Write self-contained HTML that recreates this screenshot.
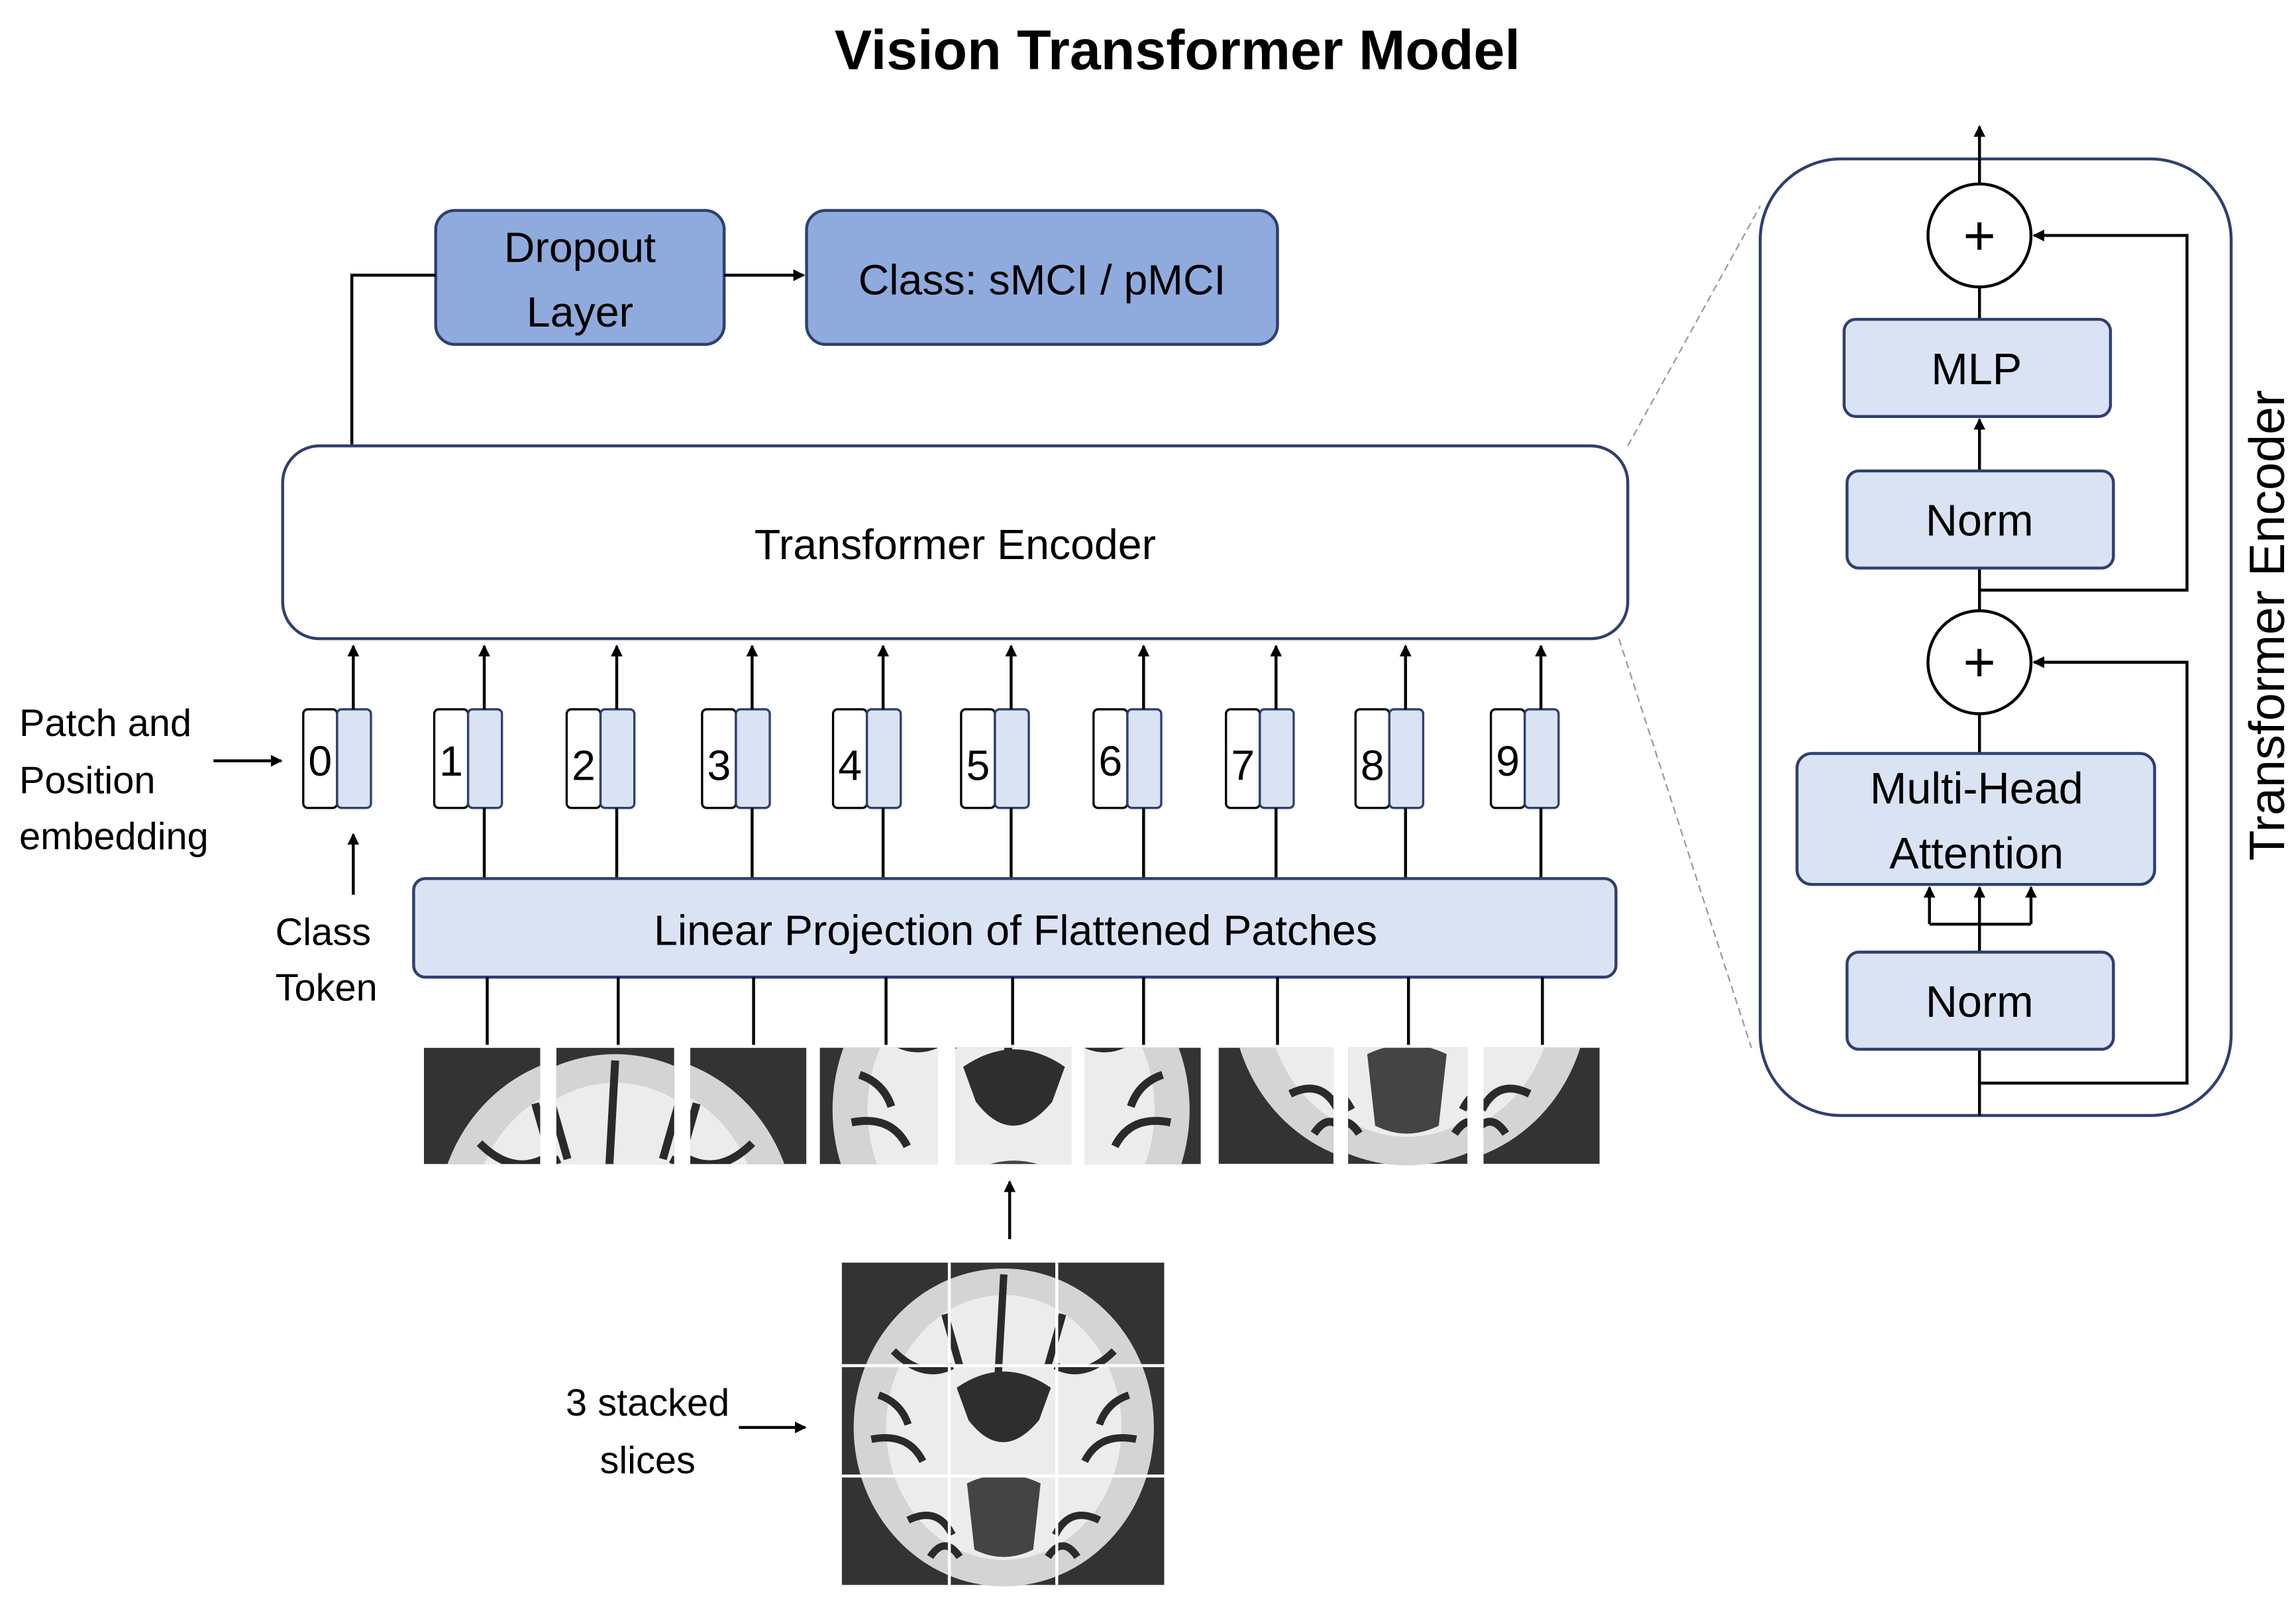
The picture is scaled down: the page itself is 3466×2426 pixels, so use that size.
<!DOCTYPE html>
<html><head><meta charset="utf-8"><style>
html,body{margin:0;padding:0;background:#fff}
svg{display:block}
text{font-family:"Liberation Sans",sans-serif;fill:#000}
</style></head><body>
<svg width="3466" height="2426" viewBox="0 0 1560 1092" xmlns="http://www.w3.org/2000/svg">
<defs>
<marker id="ah" markerWidth="8" markerHeight="8" refX="7" refY="4" orient="auto" markerUnits="userSpaceOnUse">
<path d="M0,0 L8,4 L0,8 z" fill="#000"/></marker>
<g id="brain">
<rect x="0" y="0" width="219" height="219" fill="#333"/>
<ellipse cx="110" cy="112" rx="102" ry="108" fill="#d4d4d4"/>
<ellipse cx="110" cy="112" rx="80" ry="90" fill="#ececec"/>
<g fill="none" stroke="#2a2a2a" stroke-width="5">
<path d="M110 8 L106 80"/><path d="M35 60 q20 20 40 10"/><path d="M185 60 q-20 20 -40 10"/>
<path d="M20 120 q25 -5 35 15"/><path d="M200 120 q-25 -5 -35 15"/>
<path d="M45 175 q20 -10 30 10"/><path d="M175 175 q-20 -10 -30 10"/>
<path d="M70 35 l10 35"/><path d="M150 35 l-10 35"/>
<path d="M25 90 q15 5 20 20"/><path d="M195 90 q-15 5 -20 20"/>
<path d="M60 200 q10 -15 20 0"/><path d="M160 200 q-10 -15 -20 0"/>
</g>
<path d="M78 85 q32 -22 64 0 l-8 22 q-25 30 -48 0 z" fill="#2e2e2e"/>
<path d="M85 150 q25 -12 50 0 l-5 45 q-20 10 -40 0z" fill="#444"/>
</g>
</defs>

<text x="800" y="47" text-anchor="middle" font-size="38" font-weight="bold">Vision Transformer Model</text>

<rect x="296" y="143" width="196" height="91" rx="13" fill="#8faadc" stroke="#2f3f6f" stroke-width="2"/>
<text x="394" y="178" text-anchor="middle" font-size="29">Dropout</text>
<text x="394" y="222" text-anchor="middle" font-size="29">Layer</text>
<rect x="548" y="143" width="320" height="91" rx="13" fill="#8faadc" stroke="#2f3f6f" stroke-width="2"/>
<text x="708" y="200" text-anchor="middle" font-size="29">Class: sMCI / pMCI</text>
<line x1="492" y1="187" x2="546" y2="187" stroke="#000" stroke-width="2" marker-end="url(#ah)"/>
<polyline points="239,302 239,187 296,187" fill="none" stroke="#000" stroke-width="2"/>

<rect x="192" y="303" width="914" height="131" rx="25" fill="#fff" stroke="#2f3f6f" stroke-width="2"/>
<text x="649" y="380" text-anchor="middle" font-size="29">Transformer Encoder</text>

<g font-size="29">
<g transform="translate(206,0)"><rect x="0" y="482" width="23" height="67" rx="3" fill="#fff" stroke="#000" stroke-width="1.5"/><rect x="23" y="482" width="23" height="67" rx="3" fill="#dae3f3" stroke="#2f3f6f" stroke-width="1.5"/><text x="11.5" y="527" text-anchor="middle">0</text><line x1="34" y1="482" x2="34" y2="439" stroke="#000" stroke-width="2" marker-end="url(#ah)"/><line x1="34" y1="608" x2="34" y2="567" stroke="#000" stroke-width="2" marker-end="url(#ah)"/></g>
<g transform="translate(295,0)"><rect x="0" y="482" width="23" height="67" rx="3" fill="#fff" stroke="#000" stroke-width="1.5"/><rect x="23" y="482" width="23" height="67" rx="3" fill="#dae3f3" stroke="#2f3f6f" stroke-width="1.5"/><text x="11.5" y="527" text-anchor="middle">1</text><line x1="34" y1="482" x2="34" y2="439" stroke="#000" stroke-width="2" marker-end="url(#ah)"/><line x1="34" y1="549" x2="34" y2="597" stroke="#000" stroke-width="2"/></g>
<g transform="translate(385,0)"><rect x="0" y="482" width="23" height="67" rx="3" fill="#fff" stroke="#000" stroke-width="1.5"/><rect x="23" y="482" width="23" height="67" rx="3" fill="#dae3f3" stroke="#2f3f6f" stroke-width="1.5"/><text x="11.5" y="530" text-anchor="middle">2</text><line x1="34" y1="482" x2="34" y2="439" stroke="#000" stroke-width="2" marker-end="url(#ah)"/><line x1="34" y1="549" x2="34" y2="597" stroke="#000" stroke-width="2"/></g>
<g transform="translate(477,0)"><rect x="0" y="482" width="23" height="67" rx="3" fill="#fff" stroke="#000" stroke-width="1.5"/><rect x="23" y="482" width="23" height="67" rx="3" fill="#dae3f3" stroke="#2f3f6f" stroke-width="1.5"/><text x="11.5" y="530" text-anchor="middle">3</text><line x1="34" y1="482" x2="34" y2="439" stroke="#000" stroke-width="2" marker-end="url(#ah)"/><line x1="34" y1="549" x2="34" y2="597" stroke="#000" stroke-width="2"/></g>
<g transform="translate(566,0)"><rect x="0" y="482" width="23" height="67" rx="3" fill="#fff" stroke="#000" stroke-width="1.5"/><rect x="23" y="482" width="23" height="67" rx="3" fill="#dae3f3" stroke="#2f3f6f" stroke-width="1.5"/><text x="11.5" y="530" text-anchor="middle">4</text><line x1="34" y1="482" x2="34" y2="439" stroke="#000" stroke-width="2" marker-end="url(#ah)"/><line x1="34" y1="549" x2="34" y2="597" stroke="#000" stroke-width="2"/></g>
<g transform="translate(653,0)"><rect x="0" y="482" width="23" height="67" rx="3" fill="#fff" stroke="#000" stroke-width="1.5"/><rect x="23" y="482" width="23" height="67" rx="3" fill="#dae3f3" stroke="#2f3f6f" stroke-width="1.5"/><text x="11.5" y="530" text-anchor="middle">5</text><line x1="34" y1="482" x2="34" y2="439" stroke="#000" stroke-width="2" marker-end="url(#ah)"/><line x1="34" y1="549" x2="34" y2="597" stroke="#000" stroke-width="2"/></g>
<g transform="translate(743,0)"><rect x="0" y="482" width="23" height="67" rx="3" fill="#fff" stroke="#000" stroke-width="1.5"/><rect x="23" y="482" width="23" height="67" rx="3" fill="#dae3f3" stroke="#2f3f6f" stroke-width="1.5"/><text x="11.5" y="527" text-anchor="middle">6</text><line x1="34" y1="482" x2="34" y2="439" stroke="#000" stroke-width="2" marker-end="url(#ah)"/><line x1="34" y1="549" x2="34" y2="597" stroke="#000" stroke-width="2"/></g>
<g transform="translate(833,0)"><rect x="0" y="482" width="23" height="67" rx="3" fill="#fff" stroke="#000" stroke-width="1.5"/><rect x="23" y="482" width="23" height="67" rx="3" fill="#dae3f3" stroke="#2f3f6f" stroke-width="1.5"/><text x="11.5" y="530" text-anchor="middle">7</text><line x1="34" y1="482" x2="34" y2="439" stroke="#000" stroke-width="2" marker-end="url(#ah)"/><line x1="34" y1="549" x2="34" y2="597" stroke="#000" stroke-width="2"/></g>
<g transform="translate(921,0)"><rect x="0" y="482" width="23" height="67" rx="3" fill="#fff" stroke="#000" stroke-width="1.5"/><rect x="23" y="482" width="23" height="67" rx="3" fill="#dae3f3" stroke="#2f3f6f" stroke-width="1.5"/><text x="11.5" y="530" text-anchor="middle">8</text><line x1="34" y1="482" x2="34" y2="439" stroke="#000" stroke-width="2" marker-end="url(#ah)"/><line x1="34" y1="549" x2="34" y2="597" stroke="#000" stroke-width="2"/></g>
<g transform="translate(1013,0)"><rect x="0" y="482" width="23" height="67" rx="3" fill="#fff" stroke="#000" stroke-width="1.5"/><rect x="23" y="482" width="23" height="67" rx="3" fill="#dae3f3" stroke="#2f3f6f" stroke-width="1.5"/><text x="11.5" y="527" text-anchor="middle">9</text><line x1="34" y1="482" x2="34" y2="439" stroke="#000" stroke-width="2" marker-end="url(#ah)"/><line x1="34" y1="549" x2="34" y2="597" stroke="#000" stroke-width="2"/></g>
</g>

<g font-size="26">
<text x="13" y="500">Patch and</text>
<text x="13" y="539">Position</text>
<text x="13" y="577">embedding</text>
<text x="187" y="642">Class</text>
<text x="187" y="680">Token</text>
</g>
<line x1="145" y1="517" x2="191" y2="517" stroke="#000" stroke-width="2" marker-end="url(#ah)"/>

<rect x="281" y="597" width="817" height="67" rx="8" fill="#dae3f3" stroke="#2f3f6f" stroke-width="2"/>
<text x="690" y="642" text-anchor="middle" font-size="29">Linear Projection of Flattened Patches</text>
<g stroke="#000" stroke-width="2">
<line x1="331" y1="664" x2="331" y2="710"/><line x1="420" y1="664" x2="420" y2="710"/><line x1="512" y1="664" x2="512" y2="710"/>
<line x1="602" y1="664" x2="602" y2="710"/><line x1="688" y1="664" x2="688" y2="710"/><line x1="777" y1="664" x2="777" y2="710"/>
<line x1="868" y1="664" x2="868" y2="710"/><line x1="957" y1="664" x2="957" y2="710"/><line x1="1048" y1="664" x2="1048" y2="710"/>
</g>

<clipPath id="c1"><rect x="288" y="712" width="79" height="79"/></clipPath>
<clipPath id="c2"><rect x="378" y="712" width="80" height="79"/></clipPath>
<clipPath id="c3"><rect x="469" y="712" width="79" height="79"/></clipPath>
<clipPath id="c4"><rect x="557" y="712" width="80" height="79"/></clipPath>
<clipPath id="c5"><rect x="649" y="712" width="79" height="79"/></clipPath>
<clipPath id="c6"><rect x="737" y="712" width="80" height="79"/></clipPath>
<clipPath id="c7"><rect x="828" y="712" width="78" height="79"/></clipPath>
<clipPath id="c8"><rect x="916" y="712" width="81" height="80"/></clipPath>
<clipPath id="c9"><rect x="1008" y="712" width="81" height="80"/></clipPath>
<g clip-path="url(#c1)"><use href="#brain" transform="translate(288,712) scale(1.08)"/></g>
<g clip-path="url(#c2)"><use href="#brain" transform="translate(378,712) scale(1.08) translate(-73,0)"/></g>
<g clip-path="url(#c3)"><use href="#brain" transform="translate(469,712) scale(1.08) translate(-146,0)"/></g>
<g clip-path="url(#c4)"><use href="#brain" transform="translate(557,712) scale(1.08) translate(0,-73)"/></g>
<g clip-path="url(#c5)"><use href="#brain" transform="translate(649,712) scale(1.08) translate(-73,-73)"/></g>
<g clip-path="url(#c6)"><use href="#brain" transform="translate(737,712) scale(1.08) translate(-146,-73)"/></g>
<g clip-path="url(#c7)"><use href="#brain" transform="translate(828,712) scale(1.08) translate(0,-146)"/></g>
<g clip-path="url(#c8)"><use href="#brain" transform="translate(916,712) scale(1.08) translate(-73,-146)"/></g>
<g clip-path="url(#c9)"><use href="#brain" transform="translate(1008,712) scale(1.08) translate(-146,-146)"/></g>

<line x1="686" y1="842" x2="686" y2="803" stroke="#000" stroke-width="2" marker-end="url(#ah)"/>

<use href="#brain" transform="translate(572,858)"/>
<g stroke="#fff" stroke-width="2">
<line x1="645" y1="858" x2="645" y2="1077"/><line x1="718" y1="858" x2="718" y2="1077"/>
<line x1="572" y1="928" x2="791" y2="928"/><line x1="572" y1="1003" x2="791" y2="1003"/>
</g>
<text x="440" y="962" text-anchor="middle" font-size="26">3 stacked</text>
<text x="440" y="1001" text-anchor="middle" font-size="26">slices</text>
<line x1="502" y1="970" x2="547" y2="970" stroke="#000" stroke-width="2" marker-end="url(#ah)"/>

<line x1="1106" y1="303" x2="1196" y2="140" stroke="#999" stroke-width="1" stroke-dasharray="5,3"/>
<line x1="1100" y1="434" x2="1190" y2="712" stroke="#999" stroke-width="1" stroke-dasharray="5,3"/>

<rect x="1196" y="108" width="320" height="650" rx="55" fill="#fff" stroke="#2f3f6f" stroke-width="2"/>
<text transform="translate(1552,425) rotate(-90)" text-anchor="middle" font-size="34">Transformer Encoder</text>

<g stroke="#000" stroke-width="2" fill="none">
<line x1="1345" y1="758" x2="1345" y2="713"/>
<polyline points="1345,736 1486,736 1486,450 1382,450" marker-end="url(#ah)"/>
<line x1="1345" y1="647" x2="1345" y2="628"/>
<line x1="1311" y1="628" x2="1380" y2="628"/>
<line x1="1311" y1="628" x2="1311" y2="603" marker-end="url(#ah)"/>
<line x1="1345" y1="628" x2="1345" y2="603" marker-end="url(#ah)"/>
<line x1="1380" y1="628" x2="1380" y2="603" marker-end="url(#ah)"/>
<line x1="1345" y1="512" x2="1345" y2="485"/>
<line x1="1345" y1="415" x2="1345" y2="386"/>
<polyline points="1345,401 1486,401 1486,160 1382,160" marker-end="url(#ah)"/>
<line x1="1345" y1="320" x2="1345" y2="285" marker-end="url(#ah)"/>
<line x1="1345" y1="217" x2="1345" y2="195"/>
<line x1="1345" y1="125" x2="1345" y2="86" marker-end="url(#ah)"/>
</g>
<circle cx="1345" cy="160" r="35" fill="#fff" stroke="#000" stroke-width="2"/>
<circle cx="1345" cy="450" r="35" fill="#fff" stroke="#000" stroke-width="2"/>
<text x="1345" y="173" text-anchor="middle" font-size="38">+</text>
<text x="1345" y="463" text-anchor="middle" font-size="38">+</text>

<rect x="1253" y="217" width="181" height="66" rx="8" fill="#dae3f3" stroke="#2f3f6f" stroke-width="2"/>
<text x="1343" y="261" text-anchor="middle" font-size="30">MLP</text>
<rect x="1255" y="320" width="181" height="66" rx="8" fill="#dae3f3" stroke="#2f3f6f" stroke-width="2"/>
<text x="1345" y="364" text-anchor="middle" font-size="30">Norm</text>
<rect x="1221" y="512" width="243" height="89" rx="10" fill="#dae3f3" stroke="#2f3f6f" stroke-width="2"/>
<text x="1343" y="546" text-anchor="middle" font-size="30">Multi-Head</text>
<text x="1343" y="590" text-anchor="middle" font-size="30">Attention</text>
<rect x="1255" y="647" width="181" height="66" rx="8" fill="#dae3f3" stroke="#2f3f6f" stroke-width="2"/>
<text x="1345" y="691" text-anchor="middle" font-size="30">Norm</text>
</svg>
</body></html>
